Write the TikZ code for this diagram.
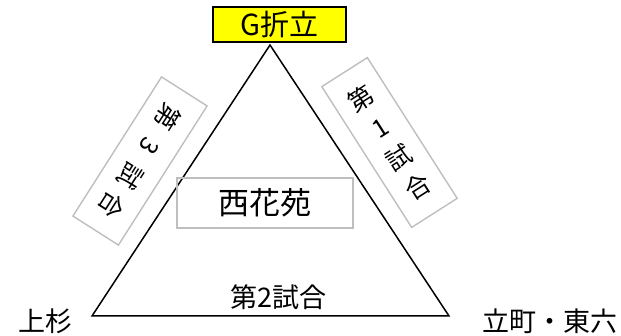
\documentclass[tikz,border=0pt]{standalone}
\usepackage{fontspec}
\newfontfamily\jp{Noto Sans CJK JP}
\definecolor{boxgray}{RGB}{190,190,190}
\definecolor{hiyellow}{RGB}{255,255,0}
\tikzset{
  lbl/.style={font=\jp\fontsize{27}{30}\selectfont, inner sep=0pt},
  graybox/.style={draw=boxgray, line width=1.4pt, inner sep=0pt},
  tri/.style={draw=black, line width=1.5pt, line join=miter},
}
\newcommand{\cellc}[1]{\makebox[35pt]{#1}}
\begin{document}
\begin{tikzpicture}[x=1pt,y=-1pt]
\useasboundingbox (0,0) rectangle (621,336);
% triangle
\coordinate (A) at (270,45);
\coordinate (B) at (92,316);
\coordinate (C) at (449,316);
\draw[tri] (A) -- (B) -- (C) -- cycle;
% top label
\node[draw=black, line width=1.5pt, fill=hiyellow, minimum width=133pt, minimum height=35pt, inner sep=0pt,
      font=\jp\fontsize{29}{32}\selectfont] (top) at (279.5,24.5) {G折立};
% centre box
\node[graybox, minimum width=176pt, minimum height=50pt, font=\jp\fontsize{31}{34}\selectfont] (center) at (265,203) {西花苑};
% corner labels
\node[lbl] (left) at (45,321) {上杉};
\node[lbl] (right) at (550,321) {立町・東六};
\node[lbl] (g2) at (278.5,297.5) {第2試合};
% right box: match 1
\node[graybox, minimum width=54pt, minimum height=167pt, rotate=32.55, align=center,
      font=\jp\fontsize{25}{35}\selectfont] (g1) at (389.5,142.5) {第\\1\\試\\合};
% left box: match 3
\node[graybox, minimum width=165pt, minimum height=54pt, rotate=-122.5,
      font=\jp\fontsize{25}{30}\selectfont] (g3) at (140,161) {\cellc{第}\cellc{3}\cellc{試}\cellc{合}};
\end{tikzpicture}
\end{document}
